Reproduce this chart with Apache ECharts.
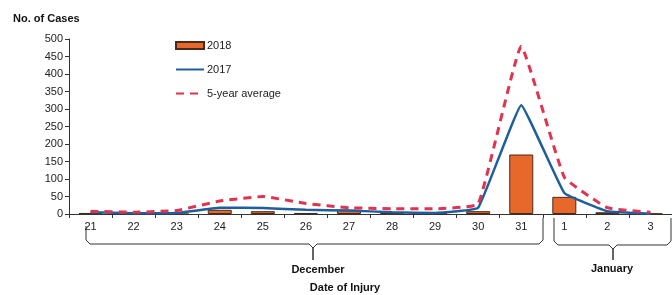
<!DOCTYPE html>
<html>
<head>
<meta charset="utf-8">
<script src="https://cdn.jsdelivr.net/npm/echarts@6/dist/echarts.min.js"></script>
<style>
  html, body { margin: 0; padding: 0; background: #fff; }
  #chart { width: 672px; height: 295px; }
</style>
</head>
<body>
<div id="chart"></div>
<script>
var days = ['21', '22', '23', '24', '25', '26', '27', '28', '29', '30', '31', '1', '2', '3'];
var cases2018 = [3, 1, 0, 12, 8, 3, 12, 5, 2, 8, 170, 49, 5, 1];
var cases2017 = [5, 2, 3, 18, 17, 12, 10, 5, 3, 18, 311, 60, 8, 1];
var fiveYearAvg = [8, 5, 10, 37, 50, 30, 18, 15, 15, 29, 479, 105, 18, 5];

var font = 'Liberation Sans, Arial, sans-serif';

// brace outlines under the month groups
var decBrace = [[86, 226], [86, 240], [90, 244], [309, 244], [313, 248], [313, 260], [313, 248], [317, 244], [539, 244], [543, 240], [543, 218]];
var janBrace = [[554, 218], [554, 241], [558, 245], [609, 245], [613, 249], [613, 260], [613, 249], [617, 245], [667, 245], [671, 241], [671, 218]];

var noSymbol = { color: 'transparent', borderWidth: 0 };

var myChart = echarts.init(document.getElementById('chart'));
var option = {
  animation: false,
  title: {
    text: 'No. of Cases',
    left: 8,
    top: 8,
    textStyle: { fontSize: 11, fontWeight: 'bold', color: '#111', fontFamily: font }
  },
  legend: {
    orient: 'vertical',
    left: 170,
    top: 35,
    itemWidth: 28,
    itemHeight: 7,
    itemGap: 13,
    textStyle: { fontSize: 11, color: '#222', fontFamily: font, padding: [0, 0, 0, -2] },
    data: [
      { name: '2018', icon: 'rect' },
      { name: '2017', itemStyle: noSymbol },
      { name: '5-year average', itemStyle: noSymbol }
    ]
  },
  grid: { left: 69, right: 0, top: 39, bottom: 81 },
  xAxis: {
    type: 'category',
    data: days,
    axisLine: { lineStyle: { color: '#333', width: 1 } },
    axisTick: { show: true, length: 4, lineStyle: { color: '#333' } },
    axisLabel: { fontSize: 11, color: '#222', margin: 7, fontFamily: font }
  },
  yAxis: {
    type: 'value',
    min: 0,
    max: 500,
    interval: 50,
    splitLine: { show: false },
    axisLine: { show: true, lineStyle: { color: '#333', width: 1 } },
    axisTick: { show: true, length: 4, lineStyle: { color: '#333' } },
    axisLabel: { fontSize: 11, color: '#222', margin: 6, fontFamily: font }
  },
  graphic: [
    {
      type: 'polyline',
      shape: { points: decBrace },
      style: { fill: null, stroke: '#333', lineWidth: 1 }
    },
    {
      type: 'polyline',
      shape: { points: janBrace },
      style: { fill: null, stroke: '#333', lineWidth: 1 }
    },
    {
      type: 'text', x: 318, y: 270,
      style: { text: 'December', font: 'bold 11px ' + font, fill: '#111', textAlign: 'center', textVerticalAlign: 'middle' }
    },
    {
      type: 'text', x: 612, y: 269,
      style: { text: 'January', font: 'bold 11px ' + font, fill: '#111', textAlign: 'center', textVerticalAlign: 'middle' }
    },
    {
      type: 'text', x: 345, y: 288,
      style: { text: 'Date of Injury', font: 'bold 11px ' + font, fill: '#111', textAlign: 'center', textVerticalAlign: 'middle' }
    }
  ],
  series: [
    {
      name: '2018',
      type: 'bar',
      data: cases2018,
      barWidth: 24,
      itemStyle: { color: '#E8672B', borderColor: '#4a2a18', borderWidth: 1 }
    },
    {
      name: '2017',
      type: 'line',
      data: cases2017,
      symbol: 'none',
      smooth: 0.08,
      itemStyle: { color: '#1F5E9C' },
      lineStyle: { color: '#1F5E9C', width: 2.5 }
    },
    {
      name: '5-year average',
      type: 'line',
      data: fiveYearAvg,
      symbol: 'none',
      smooth: 0.1,
      itemStyle: { color: '#E0334F' },
      lineStyle: { color: '#E0334F', width: 3, type: [8, 6] }
    }
  ]
};
myChart.setOption(option);
</script>
</body>
</html>
